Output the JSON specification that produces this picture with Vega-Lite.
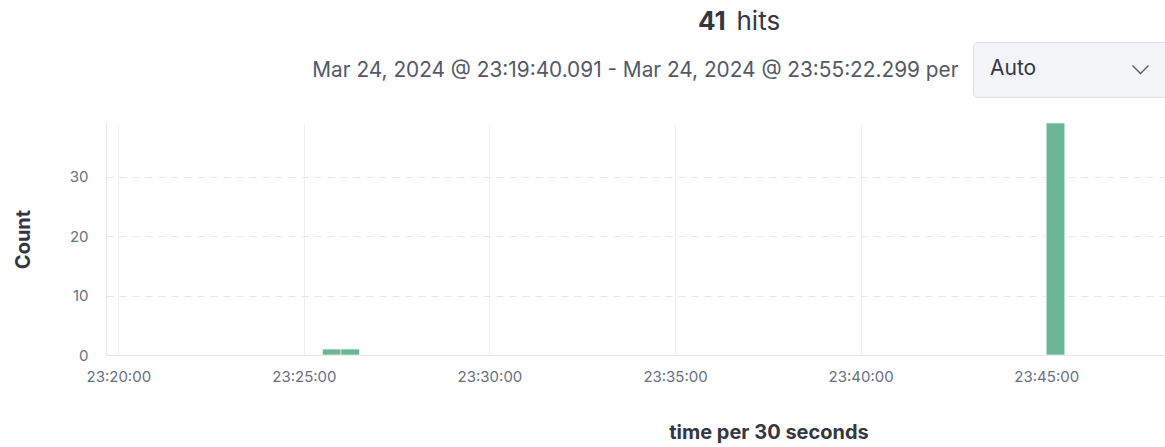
{
  "$schema": "https://vega.github.io/schema/vega-lite/v6.json",
  "width": 1059,
  "height": 232,
  "autosize": {"type": "none"},
  "padding": {"left": 106, "top": 123, "right": 0, "bottom": 92},
  "background": "#ffffff",
  "config": {"font": "Inter", "view": {"stroke": null}},
  "title": {
    "text": "41",
    "anchor": "start",
    "frame": "group",
    "dx": 592,
    "dy": 31,
    "fontSize": 26,
    "fontWeight": "bold",
    "color": "#343741",
    "font": "Inter"
  },
  "data": {
    "values": [
      {"start": "2024-03-24T23:25:30Z", "end": "2024-03-24T23:26:00Z", "count": 1},
      {"start": "2024-03-24T23:26:00Z", "end": "2024-03-24T23:26:30Z", "count": 1},
      {"start": "2024-03-24T23:45:00Z", "end": "2024-03-24T23:45:30Z", "count": 39}
    ]
  },
  "layer": [
    {
      "mark": {"type": "bar", "fill": "#6ab697", "stroke": "#ffffff", "strokeOpacity": 0.6, "strokeWidth": 1},
      "encoding": {
        "x": {
          "field": "start",
          "type": "temporal",
          "scale": {"type": "utc", "domain": [1711322380091, 1711324092000]},
          "axis": {
            "orient": "bottom",
            "format": "%H:%M:%S",
            "values": [1711322400000, 1711322700000, 1711323000000, 1711323300000, 1711323600000, 1711323900000],
            "labelFont": "Inter",
            "labelFontSize": 15,
            "labelColor": "#69707d",
            "labelPadding": 14,
            "labelFlush": false,
            "ticks": false,
            "domainColor": "#e4e7eb",
            "grid": true,
            "gridColor": "#eef0f3",
            "title": "time per 30 seconds",
            "titleFont": "Inter",
            "titleFontSize": 20,
            "titleFontWeight": "bold",
            "titleColor": "#343741",
            "titleX": 662.5,
            "titleY": 83,
            "titleAlign": "center",
            "titleBaseline": "alphabetic"
          }
        },
        "x2": {"field": "end"},
        "y": {
          "field": "count",
          "type": "quantitative",
          "scale": {"domain": [0, 39], "nice": false},
          "axis": {
            "orient": "left",
            "values": [0, 10, 20, 30],
            "ticks": false,
            "labelFont": "Inter",
            "labelFontSize": 15,
            "labelColor": "#69707d",
            "labelPadding": 18,
            "labelFlush": false,
            "domainColor": "#e4e7eb",
            "grid": true,
            "gridDash": [7, 6],
            "gridColor": "#e3e6ea",
            "title": "Count",
            "titleFont": "Inter",
            "titleFontSize": 20,
            "titleFontWeight": "bold",
            "titleColor": "#343741",
            "titleAngle": 270,
            "titleX": -77,
            "titleY": 116,
            "titleAlign": "center",
            "titleBaseline": "alphabetic"
          }
        },
        "y2": {"datum": 0}
      }
    },
    {
      "mark": {"type": "point", "opacity": 0},
      "encoding": {
        "x": {
          "field": "start",
          "type": "temporal",
          "axis": {
            "orient": "top",
            "labels": false,
            "ticks": false,
            "domain": false,
            "grid": false,
            "title": "Mar 24, 2024 @ 23:19:40.091 - Mar 24, 2024 @ 23:55:22.299 per",
            "titleFont": "Inter",
            "titleFontSize": 20.8,
            "titleFontWeight": "normal",
            "titleColor": "#535966",
            "titleX": 852,
            "titleY": -47,
            "titleAlign": "right",
            "titleBaseline": "alphabetic"
          }
        },
        "y": {
          "field": "count",
          "type": "quantitative",
          "axis": {
            "orient": "right",
            "labels": false,
            "ticks": false,
            "domain": false,
            "grid": false,
            "title": "hits",
            "titleFont": "Inter",
            "titleAngle": 0,
            "titleFontSize": 26,
            "titleFontWeight": "normal",
            "titleColor": "#343741",
            "titleX": -429,
            "titleY": -94,
            "titleAlign": "left",
            "titleBaseline": "alphabetic"
          }
        },
        "color": {
          "datum": "Auto",
          "scale": {"range": ["#535966"]},
          "legend": {
            "orient": "none",
            "legendX": 867,
            "legendY": -81,
            "title": "Auto",
            "titleOrient": "left",
            "titleFont": "Inter",
            "titleFontSize": 21,
            "titleFontWeight": "normal",
            "titleColor": "#343741",
            "titlePadding": 93,
            "labelExpr": "''",
            "labelOffset": 0,
            "labelFontSize": 21,
            "symbolType": "M-1,-0.5L0,0.5L1,-0.5",
            "symbolSize": 256,
            "symbolFillColor": "transparent",
            "symbolStrokeColor": "#535966",
            "symbolStrokeWidth": 1.3,
            "symbolOpacity": 1,
            "fillColor": "#f3f5f8",
            "strokeColor": "#dfe3e8",
            "padding": 17,
            "cornerRadius": 4
          }
        }
      }
    }
  ],
  "resolve": {"axis": {"x": "independent", "y": "independent"}}
}
